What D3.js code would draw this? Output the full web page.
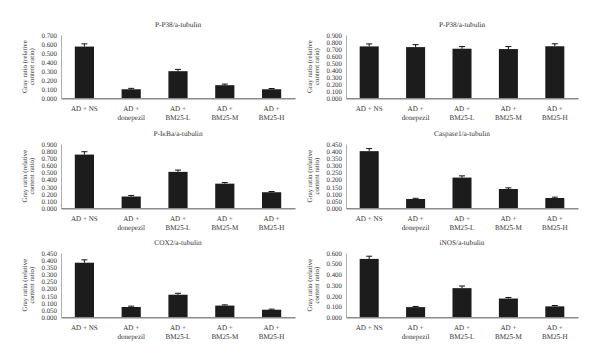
<!DOCTYPE html>
<html><head><meta charset="utf-8">
<script src="https://cdn.jsdelivr.net/npm/d3@7/dist/d3.min.js"></script>
<style>
html,body{margin:0;padding:0;background:#fff;}
svg{display:block;font-family:"Liberation Serif","DejaVu Serif",serif;text-rendering:geometricPrecision;}
</style></head>
<body><svg id="c" width="600" height="358"></svg>
<script>
const categories = [["AD + NS"], ["AD +", "donepezil"], ["AD +", "BM25-L"], ["AD +", "BM25-M"], ["AD +", "BM25-H"]];
const titles = ["P-P38/a-tubulin", "P-P38/a-tubulin", "P-IκBa/a-tubulin", "Caspase1/a-tubulin", "COX2/a-tubulin", "iNOS/a-tubulin"];
const p38aValues = [0.572, 0.100, 0.300, 0.145, 0.100];
const p38aErrors = [0.030, 0.010, 0.020, 0.012, 0.008];
const p38bValues = [0.738, 0.728, 0.705, 0.700, 0.740];
const p38bErrors = [0.035, 0.035, 0.030, 0.035, 0.035];
const ikbaValues = [0.752, 0.165, 0.510, 0.345, 0.225];
const ikbaErrors = [0.040, 0.015, 0.025, 0.015, 0.010];
const casp1Values = [0.400, 0.065, 0.215, 0.135, 0.072];
const casp1Errors = [0.018, 0.005, 0.012, 0.008, 0.006];
const cox2Values = [0.382, 0.072, 0.158, 0.082, 0.053];
const cox2Errors = [0.020, 0.006, 0.010, 0.005, 0.004];
const inosValues = [0.545, 0.095, 0.272, 0.175, 0.102];
const inosErrors = [0.025, 0.006, 0.020, 0.010, 0.008];
const yTicks1 = [0, 0.1, 0.2, 0.3, 0.4, 0.5, 0.6, 0.7];
const yTicks2 = [0, 0.1, 0.2, 0.3, 0.4, 0.5, 0.6, 0.7, 0.8, 0.9];
const yTicks3 = [0, 0.1, 0.2, 0.3, 0.4, 0.5, 0.6, 0.7, 0.8, 0.9];
const yTicks4 = [0, 0.05, 0.1, 0.15, 0.2, 0.25, 0.3, 0.35, 0.4, 0.45];
const yTicks5 = [0, 0.05, 0.1, 0.15, 0.2, 0.25, 0.3, 0.35, 0.4, 0.45];
const yTicks6 = [0, 0.1, 0.2, 0.3, 0.4, 0.5, 0.6];
const yLabel = ["Gray ratio (relative", "content ratio)"];

const panels = [
  {t: titles[0], v: p38aValues, e: p38aErrors, ticks: yTicks1, col: 0, row: 0},
  {t: titles[1], v: p38bValues, e: p38bErrors, ticks: yTicks2, col: 1, row: 0},
  {t: titles[2], v: ikbaValues, e: ikbaErrors, ticks: yTicks3, col: 0, row: 1},
  {t: titles[3], v: casp1Values, e: casp1Errors, ticks: yTicks4, col: 1, row: 1},
  {t: titles[4], v: cox2Values, e: cox2Errors, ticks: yTicks5, col: 0, row: 2},
  {t: titles[5], v: inosValues, e: inosErrors, ticks: yTicks6, col: 1, row: 2}
];
const colX = [[61, 295], [346, 578]];
const rowY = [[35, 98.3], [144, 208.3], [253, 317.3]];

const svg = d3.select("#c");
const textCol = "#333";

panels.forEach(p => {
  const [x0, x1] = colX[p.col];
  const [yT, yB] = rowY[p.row];
  const g = svg.append("g");
  const x = d3.scaleBand().domain(d3.range(categories.length)).range([x0, x1]).paddingInner(0.59).paddingOuter(0.295);
  const y = d3.scaleLinear().domain([0, d3.max(p.ticks)]).range([yB, yT]);

  // y axis
  const yAxis = d3.axisLeft(y).tickValues(p.ticks).tickFormat(d3.format(".3f")).tickSize(0).tickPadding(4);
  const ya = g.append("g").attr("transform", `translate(${x0},0)`).call(yAxis);
  ya.select(".domain").attr("stroke", "#9a9a9a").attr("stroke-width", 0.8);
  ya.selectAll("text").attr("fill", textCol).attr("font-size", 6.9).attr("font-family", "Liberation Serif");

  // bars
  g.selectAll("rect.bar").data(p.v).enter().append("rect")
    .attr("x", (d, i) => x(i)).attr("width", x.bandwidth())
    .attr("y", d => y(d)).attr("height", d => yB - y(d))
    .attr("fill", "#1c1c1c");

  // error bars
  p.v.forEach((d, i) => {
    const cx = x(i) + x.bandwidth() / 2;
    g.append("line").attr("x1", cx).attr("x2", cx).attr("y1", y(d)).attr("y2", y(d + p.e[i]))
      .attr("stroke", "#111").attr("stroke-width", 1);
    g.append("line").attr("x1", cx - 3).attr("x2", cx + 3).attr("y1", y(d + p.e[i])).attr("y2", y(d + p.e[i]))
      .attr("stroke", "#111").attr("stroke-width", 1);
  });

  // x axis
  const xAxis = d3.axisBottom(x).tickSize(0).tickFormat("");
  const xa = g.append("g").attr("transform", `translate(0,${yB})`).call(xAxis);
  xa.select(".domain").attr("stroke", "#8a8a8a").attr("stroke-width", 1.6);

  // category labels
  categories.forEach((lines, i) => {
    const cx = x(i) + x.bandwidth() / 2;
    lines.forEach((ln, k) => {
      g.append("text").attr("x", cx).attr("y", yB + 12.3 + k * 9.3)
        .attr("text-anchor", "middle").attr("font-size", 7.1)
        .attr("fill", textCol).text(ln);
    });
  });

  // title
  g.append("text").attr("x", (x0 + x1) / 2).attr("y", yT - 8.3).attr("text-anchor", "middle")
    .attr("font-size", 7.3).attr("fill", textCol).text(p.t);

  // y label
  const ylx = x0 - 34.5, yly = (yT + yB) / 2;
  yLabel.forEach((ln, k) => {
    g.append("text").attr("transform", `translate(${ylx + k * 7.8},${yly}) rotate(-90)`)
      .attr("text-anchor", "middle").attr("font-size", 6.9).attr("fill", textCol).text(ln);
  });
});
</script></body></html>
